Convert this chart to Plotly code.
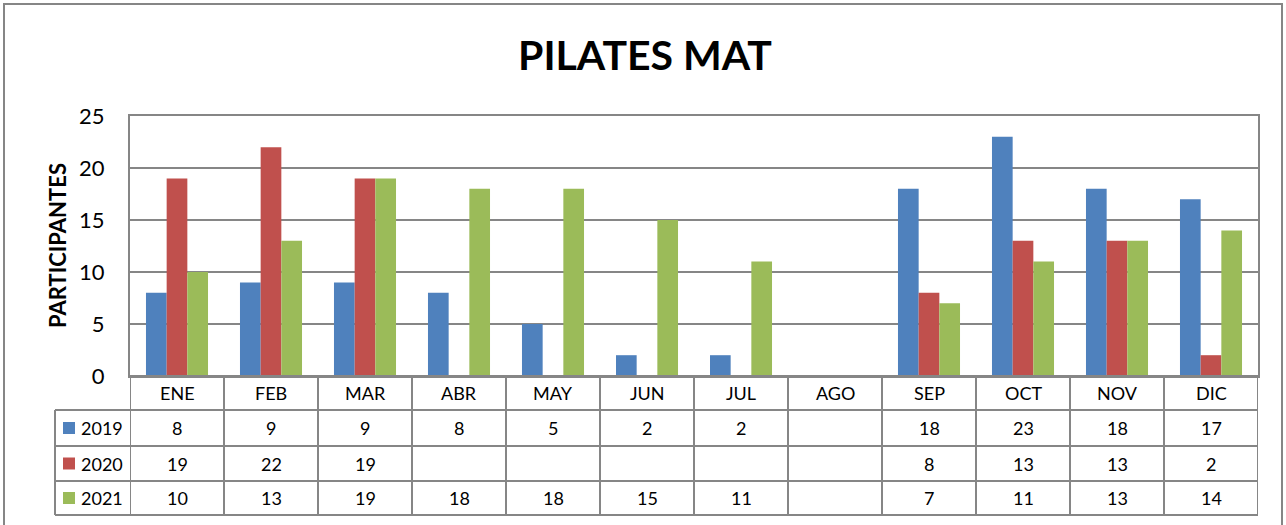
import plotly.graph_objects as go

months = ["ENE", "FEB", "MAR", "ABR", "MAY", "JUN", "JUL", "AGO", "SEP", "OCT", "NOV", "DIC"]
years = ["2019", "2020", "2021"]
v2019 = [8, 9, 9, 8, 5, 2, 2, None, 18, 23, 18, 17]
v2020 = [19, 22, 19, None, None, None, None, None, 8, 13, 13, 2]
v2021 = [10, 13, 19, 18, 18, 15, 11, None, 7, 11, 13, 14]
colors = ["#4F81BD", "#C0504D", "#9BBB59"]
y_ticks = [0, 5, 10, 15, 20, 25]

W, H = 1286, 525
FONT = "Lato"
GRID = "#868686"


def px(x):
    return x / W


def py(y):
    return 1 - y / H


# pixel layout of the Excel-style frame
plot_l, plot_r, plot_t, plot_b = 130, 1258, 116, 376
row_lines = [376, 410, 446, 481, 515]
legend_l = 55

fig = go.Figure()
series = [v2019, v2020, v2021]
for name, vals, col in zip(years, series, colors):
    fig.add_trace(go.Bar(x=months, y=vals, name=name, marker_color=col,
                         marker_line_width=0))

shapes = []
# outer chart border
shapes.append(dict(type="rect", xref="paper", yref="paper",
                   x0=px(4), x1=px(1282), y0=py(540), y1=py(4),
                   line=dict(color=GRID, width=2)))
# data table horizontal lines
for i, yy in enumerate(row_lines):
    x0 = plot_l if i == 0 else legend_l
    shapes.append(dict(type="line", xref="paper", yref="paper",
                       x0=px(x0), x1=px(plot_r), y0=py(yy), y1=py(yy),
                       line=dict(color=GRID, width=2)))
# data table vertical lines (category boundaries)
for k in range(len(months) + 1):
    shapes.append(dict(type="line", xref="x", yref="paper",
                       x0=k - 0.5, x1=k - 0.5, y0=py(row_lines[0]), y1=py(row_lines[-1]),
                       line=dict(color=GRID, width=2)))
shapes.append(dict(type="line", xref="paper", yref="paper",
                   x0=px(legend_l), x1=px(legend_l), y0=py(row_lines[1]), y1=py(row_lines[-1]),
                   line=dict(color=GRID, width=2)))

cell_font = dict(family=FONT, size=18, color="black")
annotations = []
# header row: month names
for m in months:
    annotations.append(dict(x=m, xref="x", y=py((row_lines[0] + row_lines[1]) / 2), yref="paper",
                            xanchor="center", yanchor="middle",
                            text=m, showarrow=False, font=cell_font))
# series rows
for r, (name, vals, col) in enumerate(zip(years, series, colors)):
    yc = py((row_lines[r + 1] + row_lines[r + 2]) / 2)
    shapes.append(dict(type="rect", xref="paper", yref="paper",
                       x0=px(63), x1=px(75), y0=yc - 6 / H, y1=yc + 6 / H,
                       fillcolor=col, line=dict(width=0)))
    annotations.append(dict(x=px(79), xref="paper", y=yc, yref="paper",
                            xanchor="left", yanchor="middle",
                            text=name, showarrow=False, font=cell_font))
    for m, v in zip(months, vals):
        if v is None:
            continue
        annotations.append(dict(x=m, xref="x", y=yc, yref="paper", text=str(v), showarrow=False,
                                xanchor="center", yanchor="middle", font=cell_font))

# title and y-axis label
annotations.append(dict(x=px(645), y=py(55), xref="paper", yref="paper", text="<b>PILATES MAT</b>",
                        xanchor="center", yanchor="middle",
                        showarrow=False, font=dict(family=FONT, size=41, color="black")))
annotations.append(dict(x=px(57), y=py(246), xref="paper", yref="paper", text="<b>PARTICIPANTES</b>",
                        xanchor="center", yanchor="middle",
                        textangle=-90, showarrow=False, font=dict(family=FONT, size=22, color="black")))

fig.update_layout(
    width=W, height=H,
    margin=dict(l=0, r=0, t=0, b=0, pad=0, autoexpand=False),
    paper_bgcolor="white", plot_bgcolor="white",
    showlegend=False,
    barmode="group", bargap=0.34, bargroupgap=0,
    shapes=shapes, annotations=annotations,
    xaxis=dict(domain=[px(plot_l), px(plot_r)], showticklabels=False, ticks="",
               showline=True, mirror=True, linecolor=GRID, linewidth=2, showgrid=False,
               range=[-0.5, len(months) - 0.5], automargin=False),
    yaxis=dict(domain=[py(plot_b), py(plot_t)], range=[0, 25], tickvals=y_ticks,
               showline=True, mirror=True, linecolor=GRID, linewidth=2,
               showgrid=True, gridcolor=GRID, gridwidth=1.5, zeroline=False, automargin=False,
               tickfont=dict(family=FONT, size=22, color="black"), ticklabelstandoff=19),
)

fig.write_html("out.html", config={"displayModeBar": False},
               post_script="document.body.style.margin='0';")
